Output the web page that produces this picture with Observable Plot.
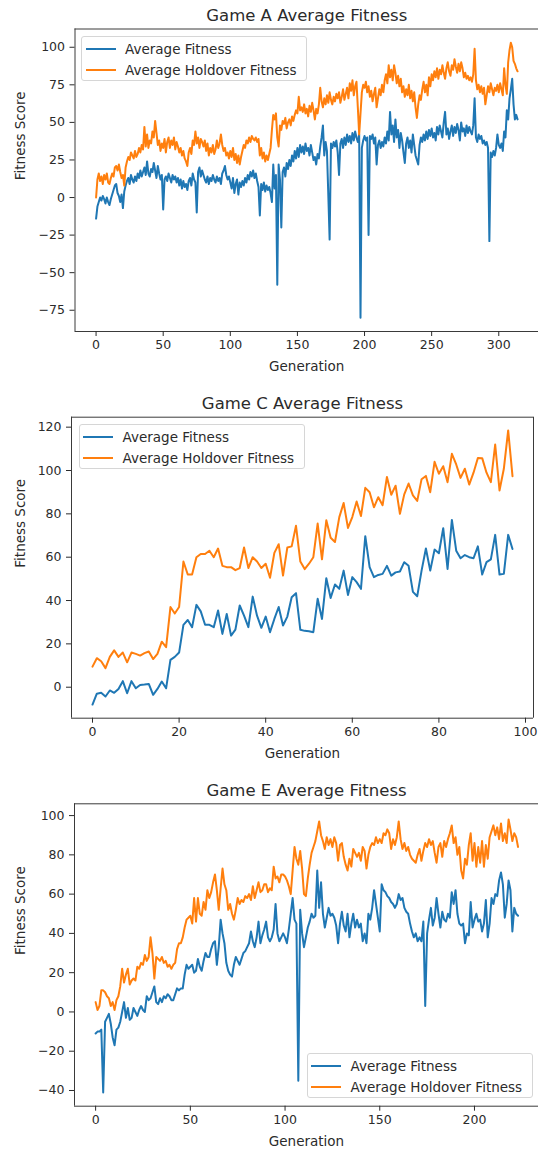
<!DOCTYPE html>
<html><head><meta charset="utf-8">
<script src="https://cdn.jsdelivr.net/npm/d3@7"></script>
<script src="https://cdn.jsdelivr.net/npm/@observablehq/plot@0.6"></script>
<style>
body{margin:0;background:#fff;font-family:"DejaVu Sans",sans-serif;}
#wrap{position:relative;width:538px;height:1151px;overflow:hidden;background:#fff;}
.panel{position:absolute;left:0;}
.legend{position:absolute;width:226px;height:45px;background:rgba(255,255,255,0.8);border:1px solid #d6d6d6;border-radius:3px;box-sizing:border-box;font-size:13.5px;color:#2b2b2b;}
.sample{position:absolute;left:3.5px;width:30px;height:2px;}
.ltxt{position:absolute;left:43px;line-height:16px;white-space:nowrap;}
</style></head>
<body><div id="wrap"></div>
<script>
// ---------- Game A ----------
const aAvg = [
-14,-6,-3,0,-2,1,-1,-4,0,-3,
-5,-1,2,5,8,9,3,1,-3,2,
-7,4,8,11,13,9,15,12,10,14,
11,16,13,18,14,17,20,15,24,16,
14,19,17,23,18,13,21,16,12,15,
-8,12,14,11,16,13,10,15,12,14,
10,13,8,12,6,11,7,9,5,11,
13,8,16,12,10,-10,17,20,14,18,
15,12,10,14,9,13,11,15,12,10,
14,11,13,9,16,18,21,15,12,14,
10,6,13,3,9,12,2,10,7,11,
8,13,10,15,12,17,14,18,13,16,
11,7,-12,9,5,10,4,8,5,7,
3,-3,22,6,15,-58,22,12,-20,17,
20,14,23,19,25,21,28,24,31,26,
33,27,35,30,34,29,36,31,33,28,
35,30,25,27,22,29,26,34,40,48,
28,37,31,2,-28,36,33,37,34,38,
30,15,36,39,33,40,35,42,37,41,
36,43,38,44,40,37,42,-80,33,38,
41,38,40,-25,41,39,42,36,40,22,
35,38,33,37,34,40,36,44,38,57,
42,48,37,52,40,45,33,43,38,30,
23,36,40,33,38,30,42,35,28,25,
22,35,40,37,42,38,44,39,45,41,
46,40,43,38,47,42,48,44,40,50,
57,42,46,39,44,48,41,47,43,49,
45,38,50,44,46,41,48,43,47,44,
42,48,66,40,37,42,39,41,36,38,
35,37,33,-29,30,27,31,28,33,42,
35,33,36,31,44,40,58,52,66,72,
79,62,52,55,52];
const aHold = [
0,12,16,11,14,9,15,12,16,10,
9,13,16,14,20,21,18,22,17,13,
15,8,20,24,27,25,30,28,26,31,
27,29,33,30,35,32,47,34,42,33,
38,36,44,40,51,43,35,38,31,36,
33,39,30,37,40,33,38,35,40,32,
37,34,30,33,28,31,26,24,21,30,
33,29,38,35,44,36,40,33,39,37,
34,38,31,36,28,33,30,35,29,32,
38,33,36,42,35,31,33,28,30,26,
31,27,33,25,29,23,28,22,27,31,
35,33,38,36,40,37,41,39,38,40,
37,39,28,33,26,30,24,28,25,29,
33,45,55,52,56,40,34,48,45,51,
49,53,46,50,52,48,54,51,55,58,
56,67,58,60,57,62,56,59,54,61,
57,63,58,52,59,56,62,73,64,60,
66,62,68,63,70,65,62,67,64,69,
66,70,63,67,72,65,69,73,66,76,
71,78,68,74,77,60,42,56,70,75,
73,77,70,74,67,71,64,69,73,60,
66,72,68,75,70,78,82,76,88,80,
85,78,88,83,76,81,74,79,70,74,
67,72,68,75,66,71,64,70,60,53,
62,68,65,72,77,70,75,68,80,74,
82,78,84,80,86,79,85,82,88,83,
79,86,90,84,81,88,85,92,87,83,
89,84,90,86,80,83,79,81,78,80,
77,82,99,78,72,75,70,74,69,73,
62,68,74,70,76,72,68,73,71,75,
70,76,72,68,86,75,69,90,98,103,
100,91,89,86,84];
const aXTicks = [0,50,100,150,200,250,300];
const aYTicks = [-75,-50,-25,0,25,50,75,100];

// ---------- Game C ----------
const cAvg = [-8,-3,-2.6,-4.3,-1.5,-2.6,-0.8,2.8,-2.8,2.8,
-0.5,1,1.2,1.5,-3.5,-0.8,2.6,-0.5,12.6,14,
16,28.8,31,27.7,38,35,28.8,28.8,27.7,35.4,
24.6,33.8,23.8,26.6,37.7,33,27.7,41.8,33,27.4,
32.6,25.4,31.5,37,28.5,32.6,41.5,43.4,26.5,26,
25.8,25.4,40.8,31.5,50.3,41.2,47.4,45.4,53.8,42.6,
50.8,48.5,45.4,69.7,55.4,50.8,51.8,52.3,56,51.5,
53,53.4,57.7,56,44,42,53.8,64,53.8,63.5,
61.8,73.4,54.6,77.2,63,59.5,61,60,59.5,65,
52,57.7,59,70.3,52,52.3,70.3,63.8];
const cHold = [9.5,13.4,12,8.8,14,17,14,16,11.5,16,
15.4,14.6,15.7,16.5,13,15.4,21,18.5,37,34,
37,58,52,52,60,61.5,61.5,63,60,64,
56,55.4,55.4,54,55,64.5,55,60,58,55,
57,50.5,62,66,51.5,64.5,65,74.5,58,54.5,
57,60,75.5,59,77,69,67,78.5,85,73.5,
78.5,85.7,79,92,90,83,87.7,84,97,88.8,
93,80,89,94,88.5,86,96,97.5,90,104,
98.5,102,94.6,107.7,102.8,96.6,100.8,93.5,99,105.8,
105.7,99,94.6,112,90.8,100.8,118.5,97.4];
const cXTicks = [0,20,40,60,80,100];
const cYTicks = [0,20,40,60,80,100,120];

// ---------- Game E ----------
const eAvg = [
-11,-10,-10,-9,-41,-5,-3,-1,-6,-13,
-17,-9,-8,-5,0,5,-3,2,-4,-3,
2,0,-2,1,3,1,0,8,6,7,
10,13,5,4,7,5,8,7,9,8,
6,6,9,12,11,12,12,19,24,22,
23,24,20,21,27,23,21,26,30,28,
28,32,35,36,24,33,47,40,35,25,
21,19,18,24,28,26,24,27,30,31,
33,35,41,36,33,38,46,35,39,42,
46,38,36,38,42,55,40,36,38,40,
38,35,42,50,58,47,45,-35,52,40,
33,38,43,46,50,48,49,72,53,66,
50,43,48,53,49,50,48,44,35,45,
51,44,41,50,38,45,50,43,47,43,
45,36,40,35,50,47,53,62,55,48,
41,65,62,61,59,58,56,55,53,55,
60,57,58,53,51,50,45,41,38,40,
36,38,36,46,3,40,47,53,44,48,
58,50,43,51,47,46,50,48,61,55,
62,50,45,44,45,35,40,39,56,43,
47,50,46,47,41,45,57,38,45,58,
55,60,59,67,71,65,48,55,67,62,
41,53,50,49];
const eHold = [
5,1,3,11,11,10,8,7,3,5,
1,6,8,13,22,15,19,22,14,16,
17,16,23,22,25,24,29,26,28,38,
30,17,28,27,26,28,25,26,23,24,
22,24,25,32,35,35,38,43,47,48,
49,45,58,46,58,50,49,56,52,62,
58,61,66,70,62,52,63,73,65,62,
52,55,50,47,52,58,55,57,56,59,
58,60,57,64,58,62,66,61,62,65,
65,61,63,62,74,68,69,66,70,70,
69,67,64,60,72,84,78,75,82,73,
60,59,68,75,81,84,87,92,97,90,
87,83,89,85,88,84,89,86,77,85,
86,79,75,72,78,74,83,81,79,81,
77,84,82,73,80,84,86,85,89,86,
88,86,91,90,93,91,83,88,85,89,
97,88,83,86,82,84,80,78,77,76,
80,83,77,82,86,84,88,85,87,81,
76,84,86,79,87,84,88,91,95,86,
89,80,84,72,68,78,75,85,91,77,
86,74,84,76,87,74,85,78,89,92,
95,90,94,88,96,87,91,86,98,93,
87,91,89,84];
const eXTicks = [0,50,100,150,200];
const eYTicks = [-40,-20,0,20,40,60,80,100];

const seriesNames = ["Average Fitness", "Average Holdover Fitness"];
const colors = ["#1f77b4", "#ff7f0e"];
const ink = "#2b2b2b";
const fmt = d => d < 0 ? "\u2212" + Math.abs(d) : String(d);

function panel(o) {
  const [x0, x1] = o.xDomain, [y0, y1] = o.yDomain;
  const marks = [
    Plot.lineY(o.avg, {stroke: colors[0], strokeWidth: 2}),
    Plot.lineY(o.hold, {stroke: colors[1], strokeWidth: 2}),
    Plot.ruleY([y0, y1], {stroke: "#3a3a3a", strokeWidth: 1}),
    Plot.ruleX(o.rightFrame ? [x0, x1] : [x0], {stroke: "#3a3a3a", strokeWidth: 1}),
    Plot.axisX({ticks: o.xTicks, tickSize: 5, tickPadding: 4, fontSize: 12.5, label: null, tickFormat: fmt}),
    Plot.axisY({ticks: o.yTicks, tickSize: 5, tickPadding: 5, fontSize: 12.5, label: null, tickFormat: fmt}),
    Plot.text([o.title], {frameAnchor: "top", dy: -13, lineAnchor: "middle", fontSize: 16.5, fill: ink}),
    Plot.text(["Generation"], {frameAnchor: "bottom", dy: 35.5, lineAnchor: "middle", fontSize: 13.5, fill: ink}),
    Plot.text(["Fitness Score"], {frameAnchor: "left", dx: 20 - o.ml, rotate: -90, lineAnchor: "middle", fontSize: 13.5, fill: ink})
  ];
  const svg = Plot.plot({
    width: 538, height: o.height,
    marginTop: o.mt, marginBottom: o.mb, marginLeft: o.ml, marginRight: o.mr,
    x: {domain: o.xDomain},
    y: {domain: o.yDomain},
    style: {fontFamily: "DejaVu Sans, sans-serif", fontSize: "12.5px", color: ink, background: "transparent", overflow: "visible"},
    marks
  });
  svg.classList.add("panel");
  svg.style.top = o.top + "px";
  return svg;
}

function legend(left, top) {
  const box = document.createElement("div");
  box.className = "legend";
  box.style.left = left + "px";
  box.style.top = top + "px";
  seriesNames.forEach((name, i) => {
    const cy = i === 0 ? 12 : 33;
    const s = document.createElement("div");
    s.className = "sample";
    s.style.top = (cy - 1) + "px";
    s.style.background = colors[i];
    const t = document.createElement("div");
    t.className = "ltxt";
    t.style.top = (cy - 8.5) + "px";
    t.textContent = name;
    box.appendChild(s); box.appendChild(t);
  });
  return box;
}

const wrap = document.getElementById("wrap");
wrap.appendChild(panel({avg: aAvg, hold: aHold, title: "Game A Average Fitness", top: 0, height: 385,
  mt: 28.5, mb: 54, ml: 74.5, mr: 0, xDomain: [-15.7, 329.6], yDomain: [-89.15, 112.15],
  xTicks: aXTicks, yTicks: aYTicks, rightFrame: false}));
wrap.appendChild(panel({avg: cAvg, hold: cHold, title: "Game C Average Fitness", top: 385, height: 385,
  mt: 31.7, mb: 52.3, ml: 71, mr: 5, xDomain: [-4.85, 101.85], yDomain: [-14.3, 124.6],
  xTicks: cXTicks, yTicks: cYTicks, rightFrame: true}));
wrap.appendChild(panel({avg: eAvg, hold: eHold, title: "Game E Average Fitness", top: 770, height: 381,
  mt: 33.3, mb: 45.3, ml: 74, mr: 0, xDomain: [-11.15, 233.8], yDomain: [-48, 106],
  xTicks: eXTicks, yTicks: eYTicks, rightFrame: false}));
wrap.appendChild(legend(81, 36));
wrap.appendChild(legend(78.5, 424));
wrap.appendChild(legend(306.5, 1053));
</script>
</body></html>
